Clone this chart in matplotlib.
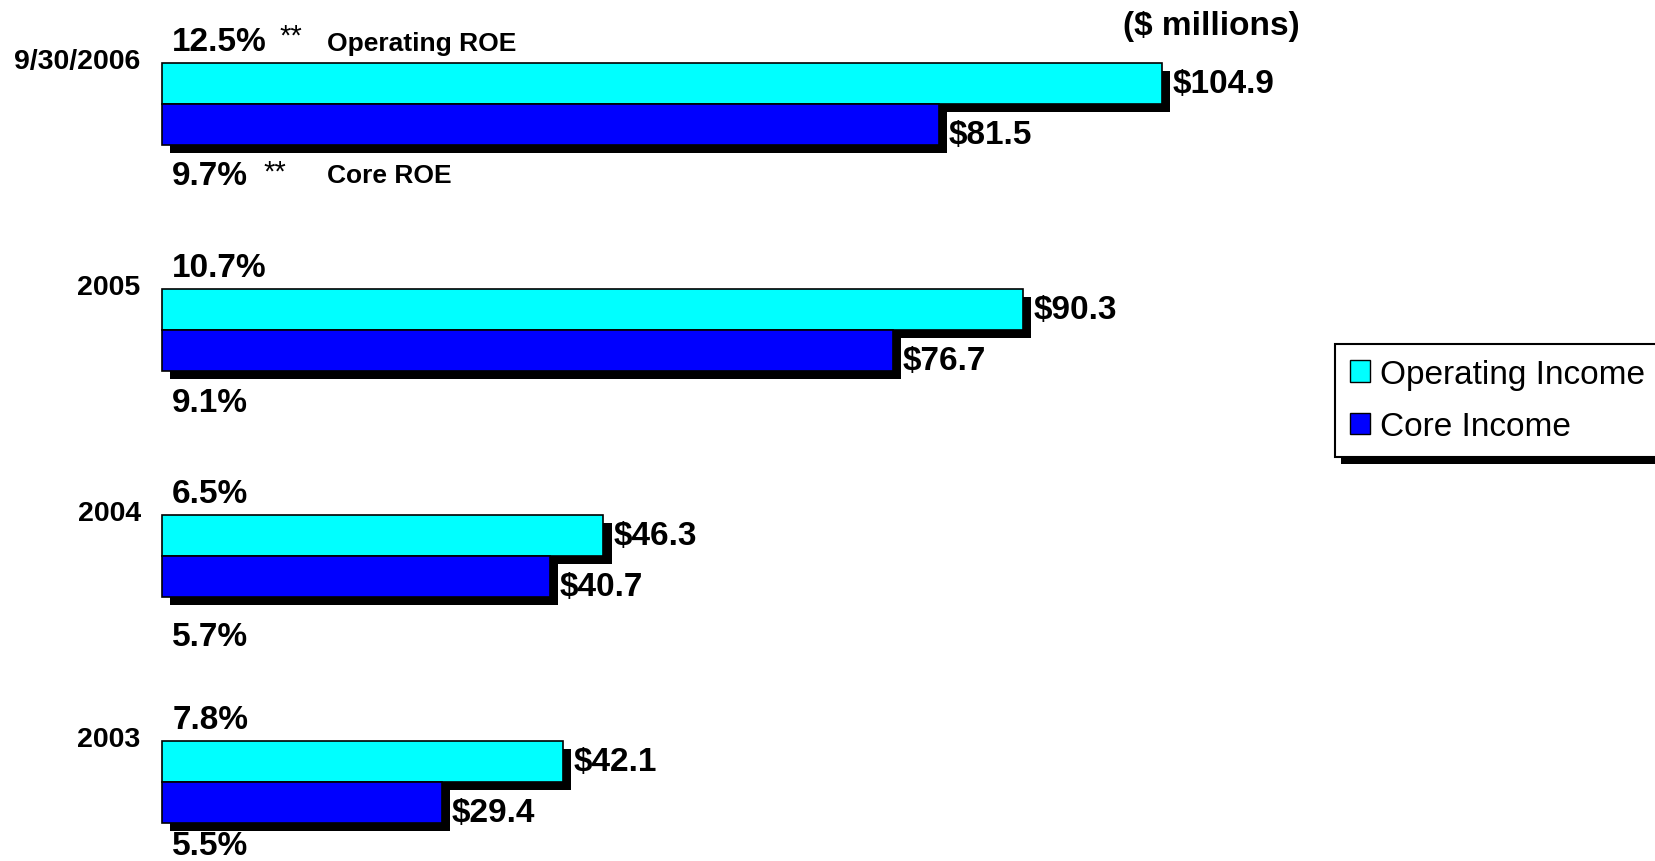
import matplotlib
matplotlib.use('Agg')
import matplotlib.pyplot as plt
from matplotlib import patheffects as pe
from matplotlib.patches import Patch

plt.rcParams['font.family'] = ['Liberation Sans', 'DejaVu Sans']

# income by period, $ millions
periods = ['9/30/2006', '2005', '2004', '2003']
operating_income = [104.9, 90.3, 46.3, 42.1]
core_income = [81.5, 76.7, 40.7, 29.4]
operating_roe = ['12.5%', '10.7%', '6.5%', '7.8%']
core_roe = ['9.7%', '9.1%', '5.7%', '5.5%']

OP_COLOR = '#00FFFF'
CORE_COLOR = '#0000FF'

fig = plt.figure(figsize=(16.56, 8.62), dpi=100)
ax = fig.add_axes([0, 0, 1, 1])
ax.set_xlim(-16.95, 156.7)
ax.set_ylim(3.351, -0.463)
ax.axis('off')

h = 0.182          # bar thickness
px = 1 / 226       # one pixel in y data units
ys = list(range(len(periods)))
roe_gap = [31, 32, 40, 23]   # space under the core bar before the core ROE text

shadow = [pe.SimplePatchShadow(offset=(6, -6), shadow_rgbFace='black', alpha=1),
          pe.Normal()]

op_bars = ax.barh([y - h / 2 for y in ys], operating_income, height=h,
                  color=OP_COLOR, edgecolor='black', linewidth=1.2)
core_bars = ax.barh([y + h / 2 for y in ys], core_income, height=h,
                    color=CORE_COLOR, edgecolor='black', linewidth=1.2)
for b in list(op_bars) + list(core_bars):
    b.set_path_effects(shadow)

bold = dict(weight='bold', color='black')
for i, y in enumerate(ys):
    top = y - h
    bottom = y + h
    ax.text(-2.2, top - 2 * px, periods[i], ha='right', va='center', fontsize=20.5, **bold)
    ax.text(operating_income[i] + 1.1, y - h / 2, f'${operating_income[i]:.1f}',
            ha='left', va='center', fontsize=24, **bold)
    ax.text(core_income[i] + 1.0, y + h / 2 + 10 * px, f'${core_income[i]:.1f}',
            ha='left', va='center', fontsize=24, **bold)
    ax.text(1.1, top - 21 * px, operating_roe[i], ha='left', va='center',
            fontsize=24, **bold)
    ax.text(1.1, bottom + roe_gap[i] * px, core_roe[i], ha='left', va='center',
            fontsize=24, **bold)

# footnote marks and ROE captions on the latest period
ax.text(12.4, -h - 27 * px, '**', ha='left', va='center', fontsize=21)
ax.text(17.35, -h - 20 * px, 'Operating ROE', ha='left', va='center', fontsize=19, **bold)
ax.text(10.7, h + 27 * px, '**', ha='left', va='center', fontsize=21)
ax.text(17.35, h + 30 * px, 'Core ROE', ha='left', va='center', fontsize=19, **bold)

fig.text(1211 / 1656, 1 - 26 / 862, '($ millions)', ha='center', va='center',
         fontsize=24, **bold)

handles = [Patch(facecolor=OP_COLOR, edgecolor='black'),
           Patch(facecolor=CORE_COLOR, edgecolor='black')]
leg = fig.legend(handles, ['Operating Income', 'Core Income'], loc='upper left',
                 bbox_to_anchor=(0.806, 0.6), fontsize=24, frameon=True,
                 fancybox=False, edgecolor='black', framealpha=1,
                 handlelength=0.6, handleheight=0.6, handletextpad=0.3,
                 borderpad=0.45, labelspacing=0.65, borderaxespad=0)
leg.get_frame().set_linewidth(1.5)
leg.get_frame().set_path_effects([
    pe.SimplePatchShadow(offset=(4.5, -4.5), shadow_rgbFace='black', alpha=1),
    pe.Normal()])

fig.savefig('out.png', dpi=100)
